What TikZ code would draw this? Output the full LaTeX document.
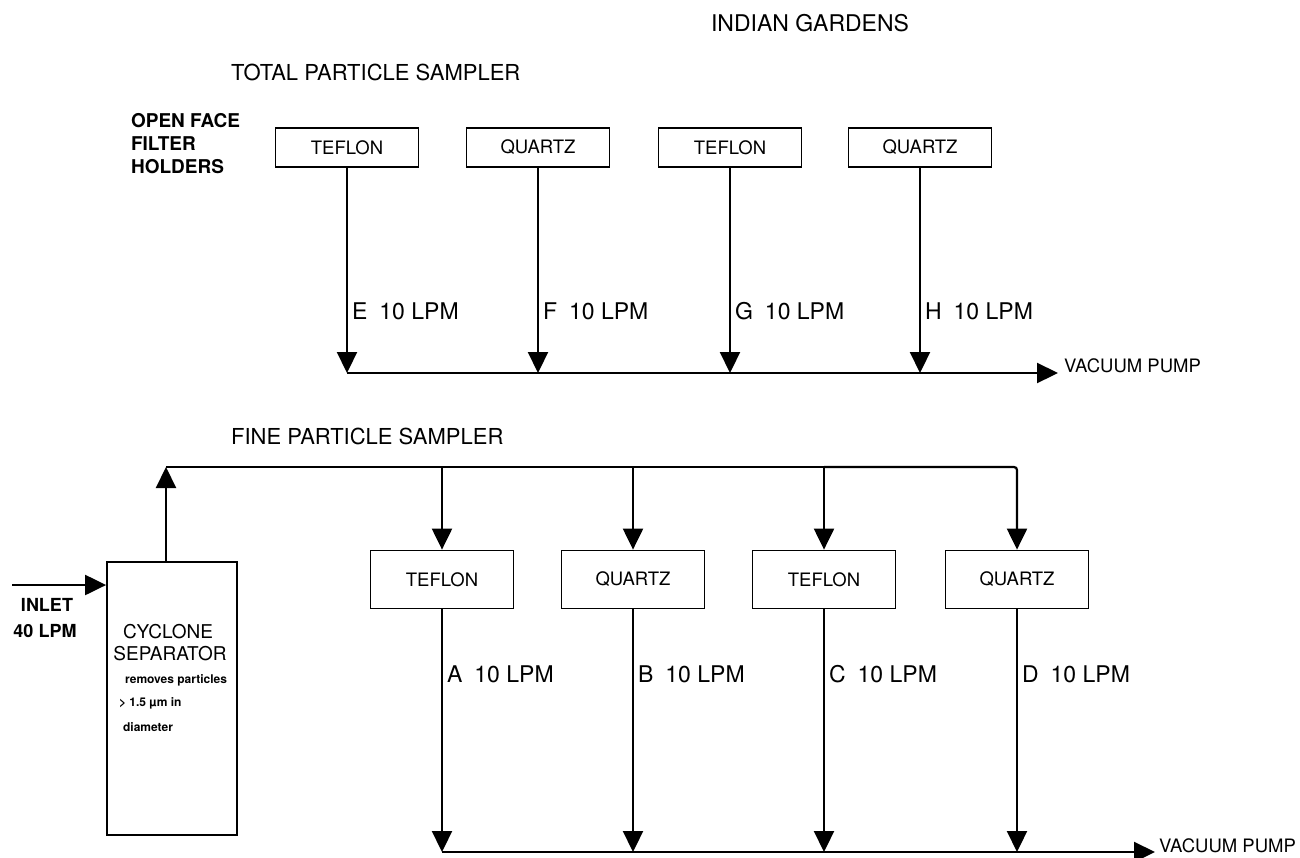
\documentclass[tikz,border=0pt]{standalone}
\usepackage{fontspec}
\setmainfont{TeX Gyre Heros}
\usetikzlibrary{arrows.meta}
\begin{document}
\begin{tikzpicture}[x=1pt,y=-1pt,line width=2.2pt,
  arr/.style={-{Triangle[length=21pt,width=20pt]}},
  filt/.style={draw,line width=1.8pt,minimum width=143pt,inner sep=0pt,font=\fontsize{18.5}{22}\selectfont},
  topf/.style={filt,minimum height=39pt},
  botf/.style={filt,minimum height=58pt},
  head/.style={inner sep=0pt,font=\fontsize{22}{26}\selectfont},
  flow/.style={inner sep=0pt,anchor=west,font=\fontsize{23}{26}\selectfont},
  vac/.style={inner sep=0pt,anchor=west,font=\fontsize{18.5}{22}\selectfont},
  bld/.style={inner sep=0pt,font=\fontsize{18}{23}\selectfont\bfseries},
  cyc/.style={inner sep=0pt,font=\fontsize{19}{22}\selectfont},
  small/.style={inner sep=0pt,anchor=west,font=\fontsize{12}{14}\selectfont\bfseries}]
\useasboundingbox (0,0) rectangle (1300,857);
\fill[white] (0,0) rectangle (1300,857);

% headings
\node[head,font=\fontsize{23}{26}\selectfont] (title) at (810,23) {INDIAN GARDENS};
\node[head,anchor=west] (tps) at (230,72) {TOTAL PARTICLE SAMPLER};
\node[head,anchor=west] (fps) at (230,436) {FINE PARTICLE SAMPLER};
\node[bld,anchor=west,align=left,font=\fontsize{19}{23}\selectfont\bfseries] (ofh) at (130,144) {OPEN FACE\\FILTER\\HOLDERS};

% total particle sampler
\node[topf] (t1) at (347,147.5) {TEFLON};
\node[topf] (t2) at (538,147.5) {QUARTZ};
\node[topf] (t3) at (730,147.5) {TEFLON};
\node[topf] (t4) at (920,147.5) {QUARTZ};
\coordinate (j1) at (347,373);
\coordinate (j2) at (538,373);
\coordinate (j3) at (730,373);
\coordinate (j4) at (920,373);
\coordinate (ve1) at (1058,373);
\draw[arr] (t1.south) -- (j1);
\draw[arr] (t2.south) -- (j2);
\draw[arr] (t3.south) -- (j3);
\draw[arr] (t4.south) -- (j4);
\draw[arr] (j1) -- (ve1);
\node[vac] (vp1) at (1063,366) {VACUUM PUMP};
\node[flow] (le) at (351,311) {E\hspace{12pt}10 LPM};
\node[flow] (lf) at (542,311) {F\hspace{12pt}10 LPM};
\node[flow] (lg) at (734,311) {G\hspace{12pt}10 LPM};
\node[flow] (lh) at (924,311) {H\hspace{12pt}10 LPM};

% fine particle sampler
\node[draw,line width=1.8pt,minimum width=130pt,minimum height=273pt,inner sep=0pt] (cy) at (172,698.5) {};
\coordinate (c0) at (166,467);
\coordinate (inl) at (12,585);
\draw[arr] (inl) -- (cy.west |- inl);
\draw[arr] (c0 |- cy.north) -- (c0);
\node[bld] (in1) at (47,605) {INLET};
\node[bld] (in2) at (45,631) {40 LPM};
\node[cyc] (cy1) at (168,632) {CYCLONE};
\node[cyc] (cy2) at (170,654) {SEPARATOR};
\node[small] (cy3) at (124,680) {removes particles};
\node[small] (cy4) at (118,703) {> 1.5 µm in};
\node[small] (cy5) at (122,727) {diameter};

\node[botf] (b1) at (442,579.5) {TEFLON};
\node[botf] (b2) at (633,579.5) {QUARTZ};
\node[botf] (b3) at (824,579.5) {TEFLON};
\node[botf] (b4) at (1017,579.5) {QUARTZ};
\draw (c0) -- (c0 -| b3);
\draw[arr] (c0 -| b1) -- (b1.north);
\draw[arr] (c0 -| b2) -- (b2.north);
\draw[arr] (c0 -| b3) -- (b3.north);
\draw[arr,rounded corners=3pt] (c0 -| b3) -- (c0 -| b4) -- (b4.north);

\coordinate (k1) at (442,852);
\coordinate (k2) at (633,852);
\coordinate (k3) at (824,852);
\coordinate (k4) at (1017,852);
\coordinate (ve2) at (1155,852);
\draw[arr] (b1.south) -- (k1);
\draw[arr] (b2.south) -- (k2);
\draw[arr] (b3.south) -- (k3);
\draw[arr] (b4.south) -- (k4);
\draw[arr] (k1) -- (ve2);
\node[vac] (vp2) at (1158,846) {VACUUM PUMP};
\node[flow] (la) at (446,674) {A\hspace{12pt}10 LPM};
\node[flow] (lb) at (637,674) {B\hspace{12pt}10 LPM};
\node[flow] (lc) at (828,674) {C\hspace{12pt}10 LPM};
\node[flow] (ld) at (1021,674) {D\hspace{12pt}10 LPM};
\end{tikzpicture}
\end{document}
